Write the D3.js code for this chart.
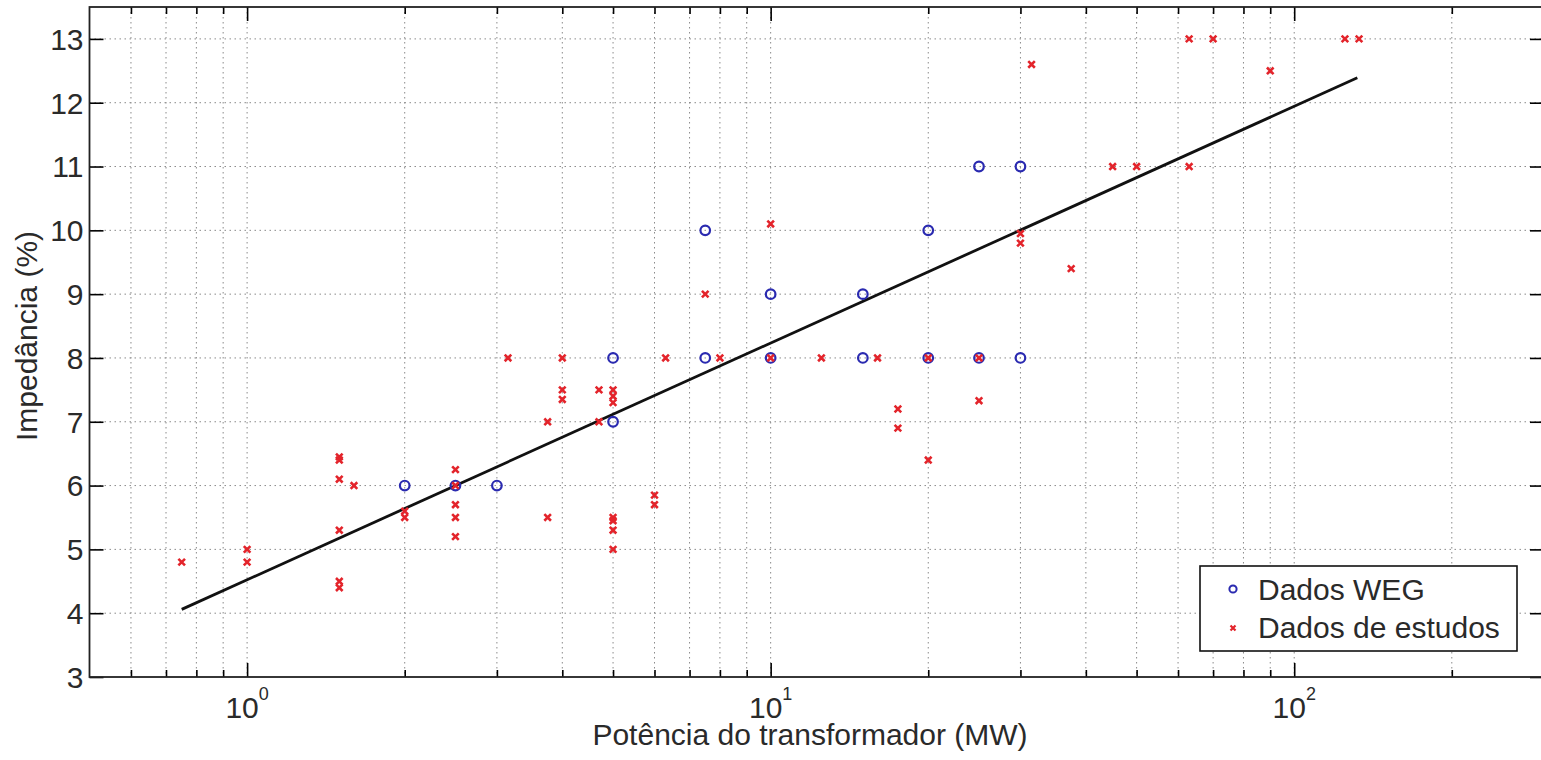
<!DOCTYPE html>
<html lang="pt">

<head>
    <meta charset="utf-8">
    <style>
        body { margin: 0; background: #fff; }
        svg { display: block; font-family: "Liberation Sans", Arial, sans-serif; }
        .grid line { stroke: #8a8a8a; stroke-width: 1; stroke-dasharray: 1.5, 3.5; }
        .axis path { display: none; }
        .axis line { stroke: #000; stroke-width: 1.6; }
        .frame { fill: none; stroke: #222; stroke-width: 1.8; }
    </style>
</head>

<body>
    <svg width="1541" height="760"></svg>
    <script src="https://d3js.org/d3.v7.min.js"></script>
    <script type="text/javascript">
    // Dados WEG (MW, %)
    var wegPower = [2, 2.5, 3, 5, 5, 7.5, 7.5, 10, 10, 15, 15, 20, 20, 25, 25, 30, 30];
    var wegImpedance = [6, 6, 6, 7, 8, 8, 10, 8, 9, 8, 9, 8, 10, 8, 11, 8, 11];

    // Dados de estudos (MW, %)
    var studyPower = [0.75, 1, 1, 1.5, 1.5, 1.5, 1.5, 1.5, 1.5, 1.6, 2, 2,
        2.5, 2.5, 2.5, 2.5, 2.5, 3.15, 3.75, 3.75, 4, 4, 4, 4.7, 4.7,
        5, 5, 5, 5, 5, 5, 5, 6, 6, 6.3, 7.5, 8, 10, 10, 12.5, 16, 17.5, 17.5,
        20, 20, 25, 25, 30, 30, 31.5, 37.5, 45, 50, 63, 63, 70, 90, 125, 133];
    var studyImpedance = [4.8, 5.0, 4.8, 6.45, 6.4, 6.1, 5.3, 4.5, 4.4, 6.0, 5.6, 5.5,
        6.25, 6.0, 5.7, 5.5, 5.2, 8, 7, 5.5, 8, 7.5, 7.35, 7.5, 7.0,
        7.5, 7.4, 7.3, 5.5, 5.45, 5.3, 5.0, 5.85, 5.7, 8, 9, 8, 10.1, 8, 8, 8, 7.2, 6.9,
        8, 6.4, 8, 7.33, 9.95, 9.8, 12.6, 9.4, 11, 11, 13, 11, 13, 12.5, 13, 13];

    // linha de tendencia (extremos)
    var fitPower = [0.75, 132];
    var fitImpedance = [4.06, 12.39];

    var xMajorTicks = [1, 10, 100];
    var xMinorTicks = [0.6, 0.7, 0.8, 0.9, 2, 3, 4, 5, 6, 7, 8, 9,
        20, 30, 40, 50, 60, 70, 80, 90, 200];
    var yTicks = [3, 4, 5, 6, 7, 8, 9, 10, 11, 12, 13];
    var legendLabels = ["Dados WEG", "Dados de estudos"];

    var svg = d3.select("svg"),
        margin = { top: 7, right: -3, bottom: 83, left: 89.5 },
        width = +svg.attr("width") - margin.left - margin.right,
        height = +svg.attr("height") - margin.top - margin.bottom;

    var x = d3.scaleLog().domain([0.5, 300]).range([0, width]),
        y = d3.scaleLinear().domain([3, 13.5]).range([height, 0]);

    var g = svg.append("g")
        .attr("transform", "translate(" + margin.left + "," + margin.top + ")");

    // grid
    var grid = g.append("g").attr("class", "grid");
    grid.selectAll(".gx")
        .data(xMinorTicks.concat(xMajorTicks))
        .enter().append("line")
        .attr("x1", function(d) { return x(d); })
        .attr("x2", function(d) { return x(d); })
        .attr("y1", 0)
        .attr("y2", height);
    grid.selectAll(".gy")
        .data(yTicks.slice(1))
        .enter().append("line")
        .attr("x1", 0)
        .attr("x2", width)
        .attr("y1", function(d) { return y(d); })
        .attr("y2", function(d) { return y(d); });

    // ticks (inward, both sides)
    function tickAxis(axisFn, scale, values, size, transform) {
        g.append("g")
            .attr("class", "axis")
            .attr("transform", transform)
            .call(axisFn(scale).tickValues(values).tickSize(size).tickFormat(""));
    }
    tickAxis(d3.axisBottom, x, xMinorTicks, -7, "translate(0," + height + ")");
    tickAxis(d3.axisBottom, x, xMajorTicks, -14, "translate(0," + height + ")");
    tickAxis(d3.axisTop, x, xMinorTicks, -7, "translate(0,0)");
    tickAxis(d3.axisTop, x, xMajorTicks, -14, "translate(0,0)");
    tickAxis(d3.axisLeft, y, yTicks, -14, "translate(0,0)");
    tickAxis(d3.axisRight, y, yTicks, -14, "translate(" + width + ",0)");

    g.append("rect")
        .attr("class", "frame")
        .attr("width", width)
        .attr("height", height);

    // tick labels
    g.selectAll(".ylab")
        .data(yTicks)
        .enter().append("text")
        .attr("x", -6)
        .attr("y", function(d) { return y(d); })
        .attr("dy", "0.36em")
        .attr("text-anchor", "end")
        .attr("font-size", 30)
        .attr("fill", "#2a2a2a")
        .text(function(d) { return d; });

    var xl = g.selectAll(".xlab")
        .data(xMajorTicks)
        .enter().append("text")
        .attr("x", function(d) { return x(d); })
        .attr("y", height + 41)
        .attr("text-anchor", "middle")
        .attr("font-size", 30)
        .attr("fill", "#2a2a2a");
    xl.append("tspan").text("10");
    xl.append("tspan")
        .attr("dy", -18)
        .attr("font-size", 18)
        .text(function(d) { return Math.round(Math.log10(d)); });

    // axis titles
    svg.append("text")
        .attr("x", 810)
        .attr("y", 745)
        .attr("text-anchor", "middle")
        .attr("font-size", 30)
        .attr("fill", "#2a2a2a")
        .text("Potência do transformador (MW)");

    svg.append("text")
        .attr("transform", "translate(37,336) rotate(-90)")
        .attr("text-anchor", "middle")
        .attr("font-size", 30)
        .attr("fill", "#2a2a2a")
        .text("Impedância (%)");

    // fit line
    var line = d3.line()
        .x(function(d) { return x(d[0]); })
        .y(function(d) { return y(d[1]); });
    g.append("path")
        .datum(d3.zip(fitPower, fitImpedance))
        .attr("d", line)
        .attr("fill", "none")
        .attr("stroke", "#111")
        .attr("stroke-width", 2.8);

    // markers
    g.selectAll(".weg")
        .data(d3.zip(wegPower, wegImpedance))
        .enter().append("circle")
        .attr("cx", function(d) { return x(d[0]); })
        .attr("cy", function(d) { return y(d[1]); })
        .attr("r", 4.8)
        .attr("fill", "none")
        .attr("stroke", "#2a2ab0")
        .attr("stroke-width", 2.2);

    function cross(sel, s, w) {
        sel.attr("d", "M" + (-s) + "," + (-s) + "L" + s + "," + s + "M" + (-s) + "," + s + "L" + s + "," + (-s))
            .attr("fill", "none")
            .attr("stroke", "#e3242b")
            .attr("stroke-width", w);
    }
    g.selectAll(".study")
        .data(d3.zip(studyPower, studyImpedance))
        .enter().append("path")
        .attr("transform", function(d) { return "translate(" + x(d[0]) + "," + y(d[1]) + ")"; })
        .call(cross, 3.3, 2.6);

    // legend
    var leg = svg.append("g").attr("transform", "translate(1200,566)");
    leg.append("rect")
        .attr("width", 317)
        .attr("height", 85)
        .attr("fill", "#fff")
        .attr("stroke", "#111")
        .attr("stroke-width", 1.6);
    leg.append("circle")
        .attr("cx", 33).attr("cy", 23).attr("r", 3.6)
        .attr("fill", "none").attr("stroke", "#2a2ab0").attr("stroke-width", 2);
    leg.append("path")
        .attr("transform", "translate(33,62)")
        .call(cross, 2.5, 2.2);
    leg.selectAll(".ltext")
        .data(legendLabels)
        .enter().append("text")
        .attr("x", 58)
        .attr("y", function(d, i) { return 34 + i * 38; })
        .attr("font-size", 30)
        .attr("fill", "#2a2a2a")
        .text(function(d) { return d; });
    </script>
</body>

</html>
